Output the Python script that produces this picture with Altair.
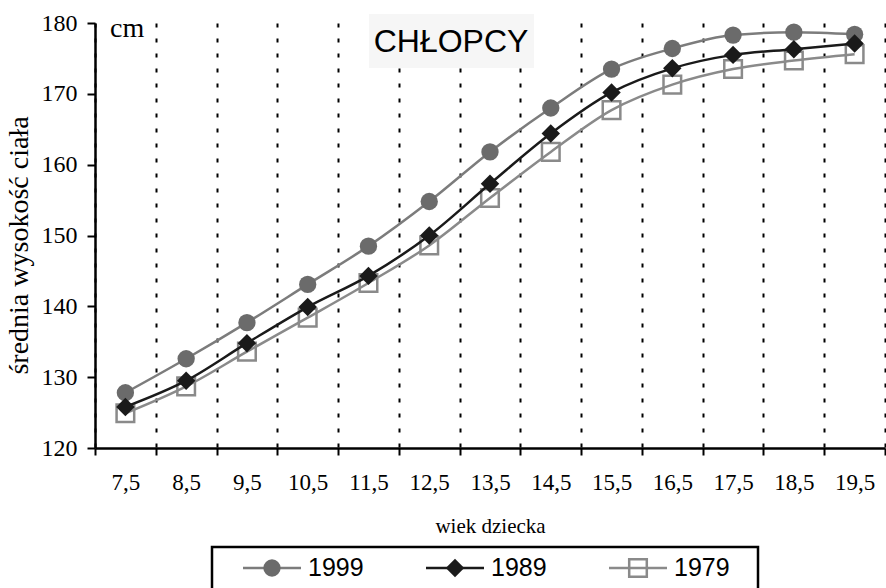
import altair as alt
import pandas as pd

# Age groups (class centres) and the bin edges between them
ages = [7.5, 8.5, 9.5, 10.5, 11.5, 12.5, 13.5, 14.5, 15.5, 16.5, 17.5, 18.5, 19.5]
age_edges = list(range(7, 21))
y_ticks = [120, 130, 140, 150, 160, 170, 180]

years = ["1999", "1989", "1979"]

# Mean body height of boys (cm) for each survey year
height_1999 = [127.8, 132.6, 137.7, 143.1, 148.5, 154.8, 161.8, 168.0, 173.5, 176.4, 178.3, 178.7, 178.4]
height_1989 = [125.8, 129.5, 134.8, 139.9, 144.3, 150.0, 157.3, 164.4, 170.2, 173.6, 175.5, 176.3, 177.1]
height_1979 = [124.9, 128.7, 133.6, 138.4, 143.3, 148.6, 155.3, 161.8, 167.7, 171.3, 173.5, 174.7, 175.6]

series = {"1999": height_1999, "1989": height_1989, "1979": height_1979}

styles = {
    "1999": dict(line="#7c7c7c", shape="circle", fill="#6b6b6b", stroke="#6b6b6b", filled=True, size=300),
    "1989": dict(line="#1a1a1a", shape="diamond", fill="#1a1a1a", stroke="#1a1a1a", filled=True, size=340),
    "1979": dict(line="#8a8a8a", shape="square", fill="transparent", stroke="#8a8a8a", filled=False, size=310),
}

SERIF = "Liberation Serif"
SANS = "Liberation Sans"

x_scale = alt.Scale(domain=[7, 20], nice=False, zero=False)

# Axis carrying the bin-edge ticks and the dotted separators
x_edges = alt.X(
    "age:Q", scale=x_scale,
    axis=alt.Axis(
        orient="bottom", values=age_edges, labels=False, title=None,
        ticks=True, tickSize=7, tickWidth=2, tickColor="black",
        domain=True, domainWidth=2.5, domainColor="black",
        grid=True, gridColor="black", gridDash=[4, 11], gridWidth=2, gridOpacity=1,
    ),
)
# Axis carrying the class-centre labels (decimal comma) and the axis title
x_labels = alt.X(
    "age:Q", scale=x_scale,
    axis=alt.Axis(
        orient="bottom", values=ages,
        labelExpr="replace(format(datum.value, '.1f'), '.', ',')",
        ticks=False, tickSize=0, domain=False, grid=False,
        labelFont=SERIF, labelFontSize=23, labelColor="black", labelPadding=23,
        labelFlush=False, labelOverlap=False,
        title="wiek dziecka", titleFont=SERIF, titleFontSize=21, titleFontWeight="normal",
        titleColor="black", titleBaseline="alphabetic", titleY=84,
    ),
)
x_plain = alt.X("age:Q", scale=x_scale, axis=None)

y_enc = alt.Y(
    "height:Q",
    scale=alt.Scale(domain=[120, 180], nice=False, zero=False),
    axis=alt.Axis(
        values=y_ticks, grid=False,
        domainWidth=2.5, domainColor="black",
        tickSize=8, tickWidth=2, tickColor="black",
        labelFont=SERIF, labelFontSize=24, labelColor="black", labelPadding=10,
        title="średnia wysokość ciała", titleFont=SERIF, titleFontSize=28,
        titleFontWeight="normal", titleColor="black", titleAngle=270,
        titleBaseline="alphabetic", titleAlign="center", titleX=-68, titleY=222,
    ),
)


def frame(year):
    return pd.DataFrame({"age": ages, "height": series[year], "year": year})


# Draw order: 1999 first, 1979 next, 1989 on top
draw_order = ["1999", "1979", "1989"]
plot_layers = []
for i, year in enumerate(draw_order):
    st = styles[year]
    x_enc = x_edges if i == 0 else (x_labels if i == 1 else x_plain)
    line = alt.Chart(frame(year)).mark_line(
        color=st["line"], strokeWidth=2.5, interpolate="monotone"
    ).encode(x=x_enc, y=y_enc)
    pts = alt.Chart(frame(year)).mark_point(
        shape=st["shape"], filled=st["filled"], fill=st["fill"], color=st["stroke"],
        size=st["size"], strokeWidth=2.5, opacity=1,
    ).encode(x=x_plain, y=y_enc)
    plot_layers += [line, pts]

plot = alt.layer(*plot_layers).resolve_axis(x="independent")

# Unit label and panel heading inside the plot
cm_label = alt.Chart(pd.DataFrame({"label": ["cm"]})).mark_text(
    font=SERIF, fontSize=28, align="left", baseline="alphabetic", color="black"
).encode(x=alt.value(15), y=alt.value(14), text="label:N")

heading_box = alt.Chart(pd.DataFrame({"k": [0]})).mark_rect(
    fill="#f6f6f6"
).encode(x=alt.value(274), x2=alt.value(439), y=alt.value(-9), y2=alt.value(45))

heading = alt.Chart(pd.DataFrame({"label": ["CHŁOPCY"]})).mark_text(
    font=SANS, fontSize=32, align="center", baseline="alphabetic", color="black"
).encode(x=alt.value(356), y=alt.value(29), text="label:N")

# Legend panel below the plot
legend_x = alt.X(
    "year:N", sort=years,
    scale=alt.Scale(type="point", domain=years, range=[177, 543], padding=0),
    axis=None,
)
LEG_Y = 545

legend_box = alt.Chart(pd.DataFrame({"k": [0]})).mark_rect(
    fill="white", stroke="black", strokeWidth=2.5
).encode(x=alt.value(117), x2=alt.value(663), y=alt.value(524), y2=alt.value(640))

legend_layers = [legend_box]
for year in years:
    st = styles[year]
    d = pd.DataFrame({"year": [year]})
    legend_layers.append(
        alt.Chart(d).mark_rule(
            color=st["line"], strokeWidth=2.5, xOffset=-29, x2Offset=29
        ).encode(x=legend_x, x2="year:N", y=alt.value(LEG_Y))
    )
    legend_layers.append(
        alt.Chart(d).mark_point(
            shape=st["shape"], filled=st["filled"], fill=st["fill"], color=st["stroke"],
            size=st["size"], strokeWidth=2.5, opacity=1,
        ).encode(x=legend_x, y=alt.value(LEG_Y))
    )
    legend_layers.append(
        alt.Chart(d).mark_text(
            font=SANS, fontSize=25, align="left", baseline="middle", dx=36, color="black"
        ).encode(x=legend_x, y=alt.value(LEG_Y), text="year:N")
    )

chart = (
    alt.layer(heading_box, plot, cm_label, heading, *legend_layers)
    .resolve_scale(x="independent")
    .properties(
        width=790,
        height=425,
        autosize=alt.AutoSizeParams(type="none"),
        padding={"left": 95, "top": 23, "right": 1, "bottom": 140},
        background="white",
    )
    .configure_view(stroke=None)
)

chart.save("out.html", embed_options={"renderer": "svg", "actions": False})
